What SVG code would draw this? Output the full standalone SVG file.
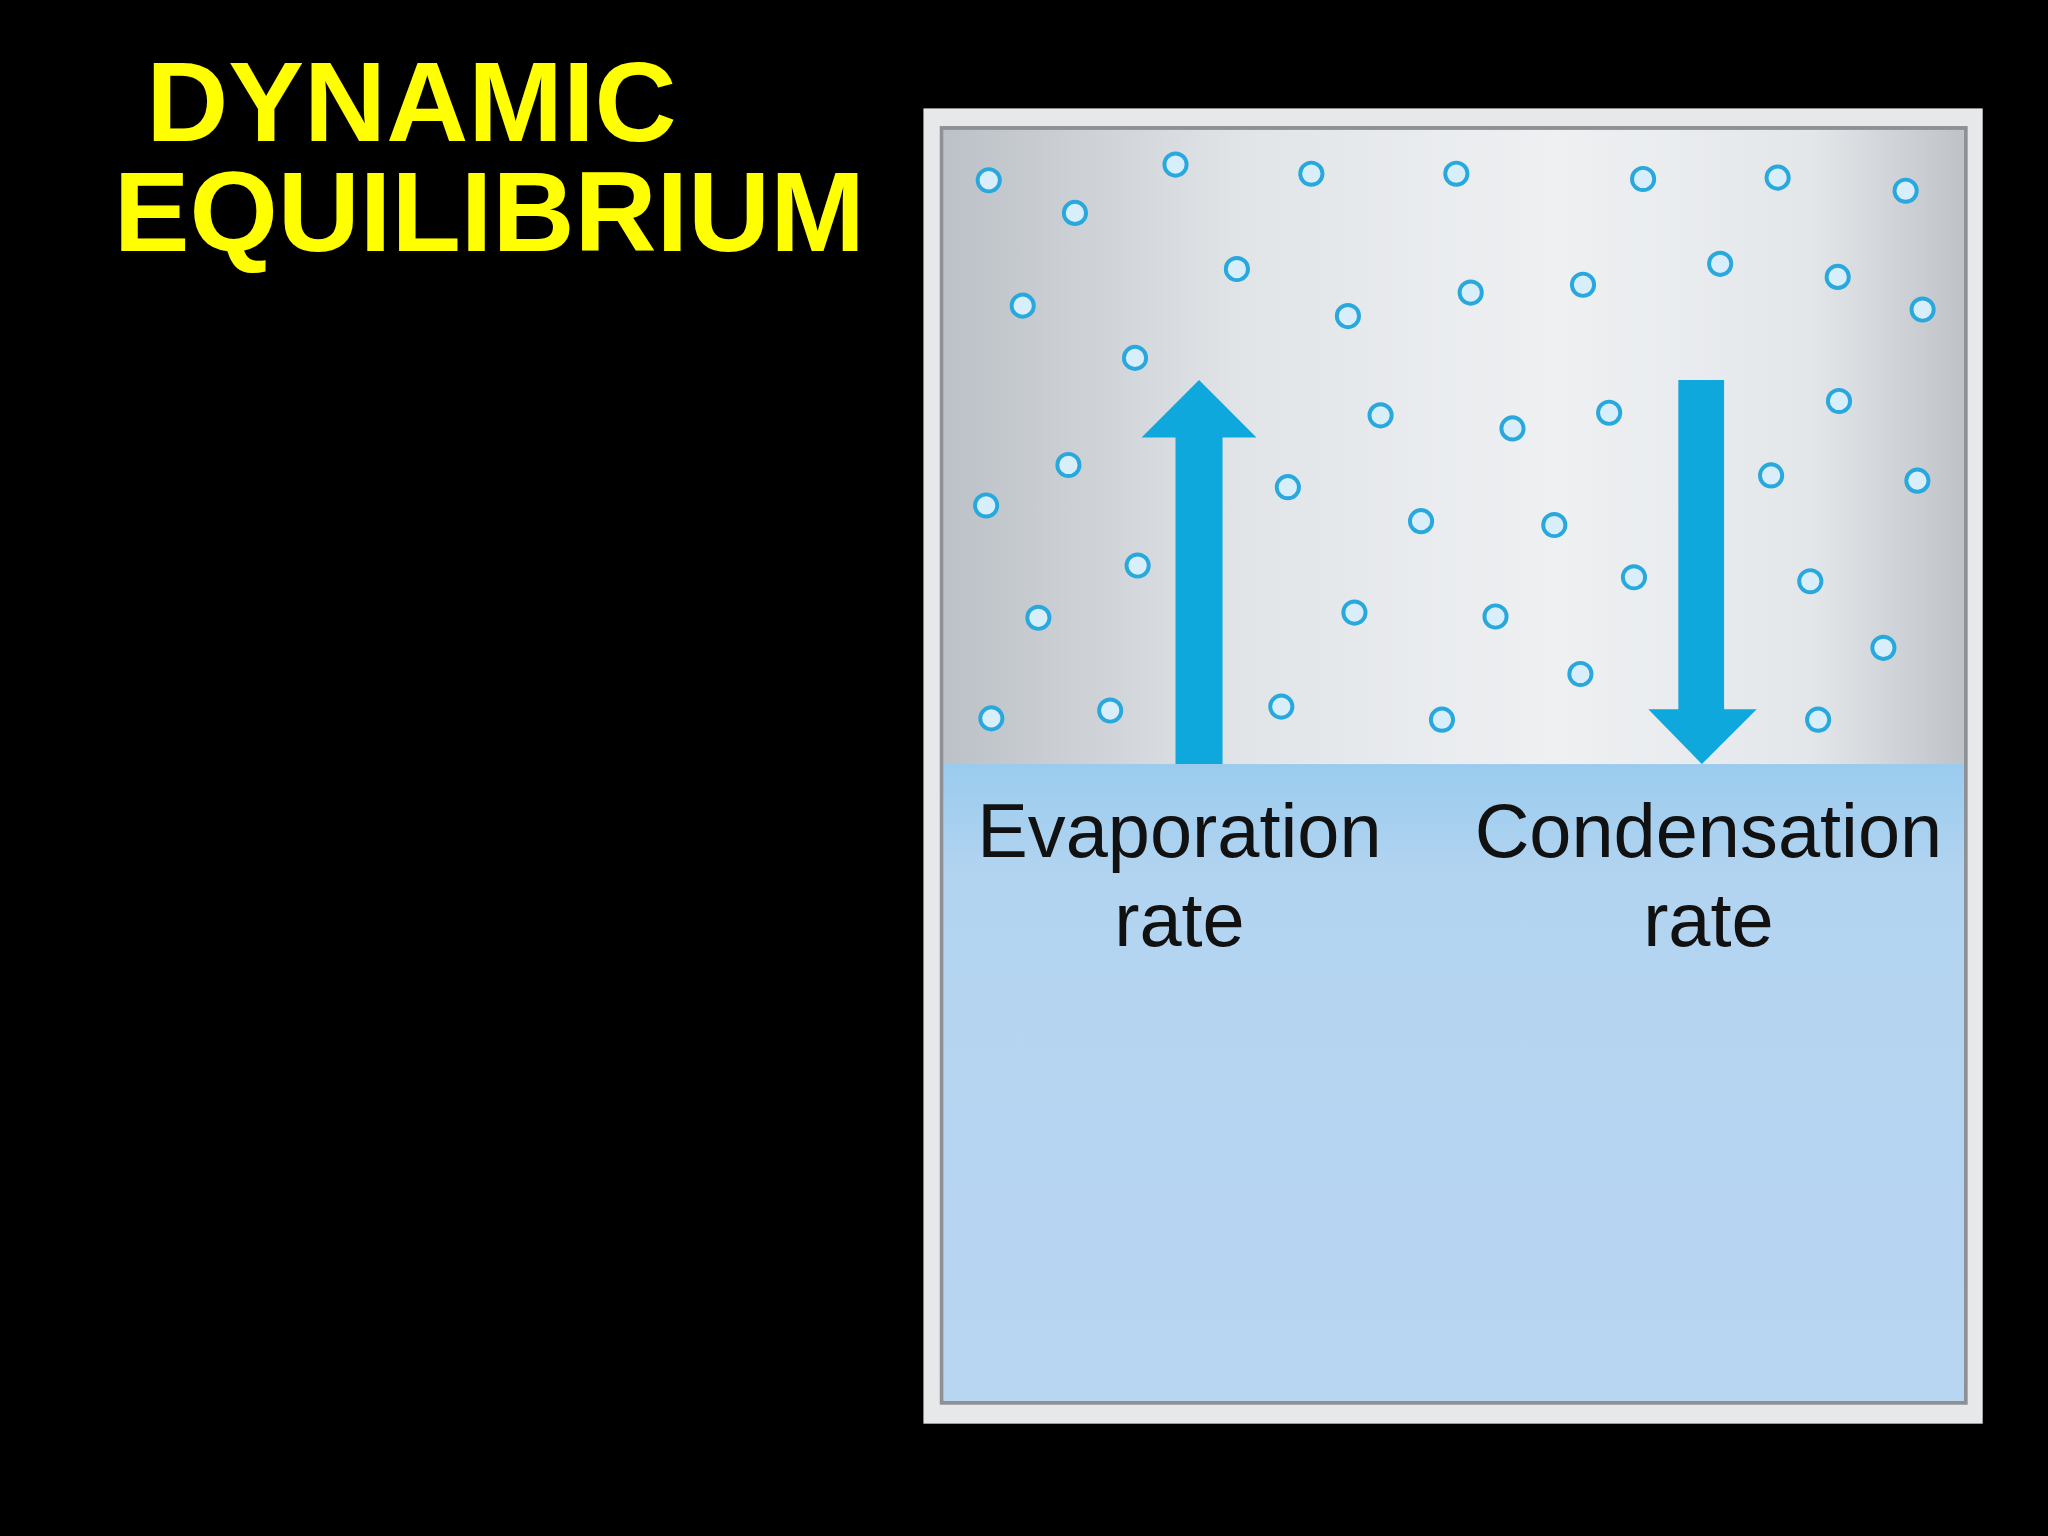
<svg xmlns="http://www.w3.org/2000/svg" width="2048" height="1536" viewBox="0 0 2048 1536">
<defs>
<linearGradient id="gas" x1="0" y1="0" x2="1" y2="0">
<stop offset="0" stop-color="#bcc1c7"/><stop offset="0.3" stop-color="#e2e5e8"/><stop offset="0.6" stop-color="#eef0f2"/><stop offset="0.85" stop-color="#e4e7ea"/><stop offset="1" stop-color="#bfc3c8"/>
</linearGradient>
<linearGradient id="liq" x1="0" y1="0" x2="0" y2="1">
<stop offset="0" stop-color="#9acbee"/><stop offset="0.18" stop-color="#b3d4f0"/><stop offset="1" stop-color="#b8d5f2"/>
</linearGradient>
<style>
.m{fill:#d8eefa;stroke:#29a8dd;stroke-width:3}
.a{fill:#0fa8dd}
.t{font-family:"Liberation Sans",Arial,sans-serif;font-size:58px;fill:#111;text-anchor:middle}
.h{font-family:"Liberation Sans",Arial,sans-serif;font-weight:bold;font-size:87px;fill:#ffff00}
</style>
</defs>
<rect width="2048" height="1536" fill="#000"/>
<g transform="scale(1.30612)">
<g id="title">
<text class="h" x="112" y="108">DYNAMIC</text>
<text class="h" x="87" y="192">EQUILIBRIUM</text>
</g>
<g id="container">
<rect x="707" y="83" width="811" height="1007" fill="#e6e8ea"/>
<rect x="721" y="98" width="784" height="976" fill="none" stroke="#8d9196" stroke-width="3"/>
<rect x="722.5" y="99.5" width="781" height="486" fill="url(#gas)"/>
<rect x="722.5" y="585" width="781" height="487.5" fill="url(#liq)"/>
</g>
<g id="molecules">
<circle class="m" cx="757" cy="138" r="8.5"/><circle class="m" cx="823" cy="163" r="8.5"/><circle class="m" cx="900" cy="126" r="8.5"/><circle class="m" cx="1004" cy="133" r="8.5"/><circle class="m" cx="1115" cy="133" r="8.5"/><circle class="m" cx="1258" cy="137" r="8.5"/><circle class="m" cx="1361" cy="136" r="8.5"/><circle class="m" cx="1459" cy="146" r="8.5"/>
<circle class="m" cx="783" cy="234" r="8.5"/><circle class="m" cx="947" cy="206" r="8.5"/><circle class="m" cx="1032" cy="242" r="8.5"/><circle class="m" cx="1126" cy="224" r="8.5"/><circle class="m" cx="1212" cy="218" r="8.5"/><circle class="m" cx="1317" cy="202" r="8.5"/><circle class="m" cx="1407" cy="212" r="8.5"/><circle class="m" cx="1472" cy="237" r="8.5"/>
<circle class="m" cx="869" cy="274" r="8.5"/><circle class="m" cx="1057" cy="318" r="8.5"/><circle class="m" cx="1158" cy="328" r="8.5"/><circle class="m" cx="1232" cy="316" r="8.5"/><circle class="m" cx="1408" cy="307" r="8.5"/>
<circle class="m" cx="818" cy="356" r="8.5"/><circle class="m" cx="755" cy="387" r="8.5"/><circle class="m" cx="986" cy="373" r="8.5"/><circle class="m" cx="1088" cy="399" r="8.5"/><circle class="m" cx="1190" cy="402" r="8.5"/><circle class="m" cx="1356" cy="364" r="8.5"/><circle class="m" cx="1468" cy="368" r="8.5"/>
<circle class="m" cx="871" cy="433" r="8.5"/><circle class="m" cx="795" cy="473" r="8.5"/><circle class="m" cx="1037" cy="469" r="8.5"/><circle class="m" cx="1145" cy="472" r="8.5"/><circle class="m" cx="1251" cy="442" r="8.5"/><circle class="m" cx="1386" cy="445" r="8.5"/><circle class="m" cx="1442" cy="496" r="8.5"/>
<circle class="m" cx="1210" cy="516" r="8.5"/><circle class="m" cx="759" cy="550" r="8.5"/><circle class="m" cx="850" cy="544" r="8.5"/><circle class="m" cx="981" cy="541" r="8.5"/><circle class="m" cx="1104" cy="551" r="8.5"/><circle class="m" cx="1392" cy="551" r="8.5"/>
</g>
<g id="connectors">
<polygon class="a" points="900,585 936,585 936,335 962,335 918,291 874,335 900,335"/>
<polygon class="a" points="1285,291 1320,291 1320,543 1345,543 1303,585 1262,543 1285,543"/>
</g>
<g id="labels">
<text class="t" x="903" y="656">Evaporation</text>
<text class="t" x="903" y="724">rate</text>
<text class="t" x="1308" y="656">Condensation</text>
<text class="t" x="1308" y="724">rate</text>
</g>
</g>
</svg>
